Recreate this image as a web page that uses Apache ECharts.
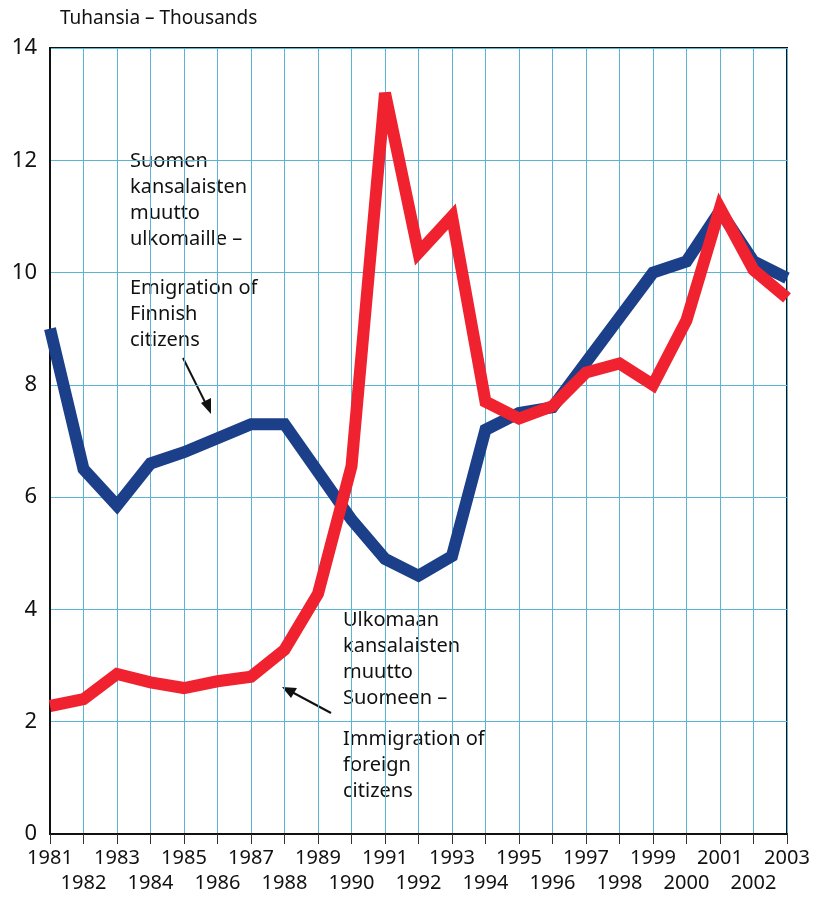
<!DOCTYPE html>
<html>
<head>
<meta charset="utf-8">
<script src="https://cdn.jsdelivr.net/npm/echarts@6/dist/echarts.min.js"></script>
<style>
	html, body { margin: 0; padding: 0; background: #fff; }
	#chart { width: 814px; height: 899px; }
</style>
</head>
<body>
<div id="chart"></div>
<script>
	// vuodet - years
	var years = ['1981', '1982', '1983', '1984', '1985', '1986', '1987', '1988', '1989', '1990', '1991',
		'1992', '1993', '1994', '1995', '1996', '1997', '1998', '1999', '2000', '2001', '2002', '2003'];
	// Suomen kansalaisten muutto ulkomaille (tuhansia)
	var emigration = [9.0, 6.5, 5.85, 6.6, 6.8, 7.05, 7.3, 7.3, 6.45, 5.6, 4.9,
		4.6, 4.95, 7.2, 7.5, 7.6, 8.4, 9.2, 10.0, 10.2, 11.1, 10.2, 9.9];
	// Ulkomaan kansalaisten muutto Suomeen (tuhansia)
	var immigration = [2.28, 2.4, 2.85, 2.7, 2.6, 2.72, 2.8, 3.28, 4.28, 6.55, 13.2,
		10.35, 11.0, 7.7, 7.4, 7.62, 8.22, 8.38, 8.0, 9.15, 11.15, 10.05, 9.55];
	var yTicks = [0, 2, 4, 6, 8, 10, 12, 14];

	var font = '"Noto Sans", "Open Sans", sans-serif';
	var chart = echarts.init(document.getElementById('chart'));

	chart.setOption({
		backgroundColor: '#fff',
		animation: false,
		textStyle: { fontFamily: font },
		grid: {
			left: 50, right: 27, top: 48, bottom: 65,
			show: true, borderColor: '#111', borderWidth: 2
		},
		xAxis: {
			type: 'category',
			data: years,
			boundaryGap: false,
			axisLine: { lineStyle: { color: '#111', width: 2 } },
			axisTick: { show: true, inside: false, length: 10, interval: 0, lineStyle: { color: '#333', width: 1 } },
			axisLabel: {
				interval: 0, margin: 12, fontSize: 20, color: '#111', lineHeight: 25, fontFamily: font,
				formatter: function(v, i) { return i % 2 === 1 ? '\n' + v : v; }
			},
			splitLine: { show: true, interval: 0, lineStyle: { color: '#5ab4d4', width: 1 } }
		},
		yAxis: {
			type: 'value',
			min: yTicks[0], max: yTicks[yTicks.length - 1], interval: 2,
			axisLine: { show: true, lineStyle: { color: '#111', width: 2 } },
			axisTick: { show: false },
			axisLabel: { fontSize: 22, color: '#111', margin: 13, fontFamily: font },
			splitLine: { show: true, lineStyle: { color: '#5ab4d4', width: 1 } }
		},
		series: [{
				name: 'Emigration of Finnish citizens',
				type: 'line',
				data: emigration,
				symbol: 'none',
				lineStyle: { color: '#1c3f8a', width: 12, join: 'miter', miterLimit: 3, cap: 'butt' }
			},
			{
				name: 'Immigration of foreign citizens',
				type: 'line',
				data: immigration,
				symbol: 'none',
				lineStyle: { color: '#f0222f', width: 12, join: 'miter', miterLimit: 3, cap: 'butt' }
			}
		],
		graphic: [
			{ type: 'text', left: 60, top: 9, style: { text: 'Tuhansia – Thousands', fontSize: 19, fill: '#111', fontFamily: font } },
			{ type: 'text', left: 130, top: 148, style: {
				text: 'Suomen\nkansalaisten\nmuutto\nulkomaille –', fontSize: 20, lineHeight: 26, fill: '#111', fontFamily: font } },
			{ type: 'text', left: 130, top: 275, style: {
				text: 'Emigration of\nFinnish\ncitizens', fontSize: 20, lineHeight: 26, fill: '#111', fontFamily: font } },
			{ type: 'text', left: 343, top: 607, style: {
				text: 'Ulkomaan\nkansalaisten\nmuutto\nSuomeen –', fontSize: 20, lineHeight: 26, fill: '#111', fontFamily: font } },
			{ type: 'text', left: 343, top: 726, style: {
				text: 'Immigration of\nforeign\ncitizens', fontSize: 20, lineHeight: 26, fill: '#111', fontFamily: font } },
			// nuolet - arrows
			{ type: 'line', shape: { x1: 183, y1: 358, x2: 208, y2: 408 }, style: { stroke: '#111', lineWidth: 2 } },
			{ type: 'polygon', shape: { points: [[211, 414], [201, 403], [211, 398]] }, style: { fill: '#111' } },
			{ type: 'line', shape: { x1: 331, y1: 713, x2: 290, y2: 691 }, style: { stroke: '#111', lineWidth: 2 } },
			{ type: 'polygon', shape: { points: [[282, 687], [297, 688], [291, 698]] }, style: { fill: '#111' } }
		]
	});
</script>
</body>
</html>
